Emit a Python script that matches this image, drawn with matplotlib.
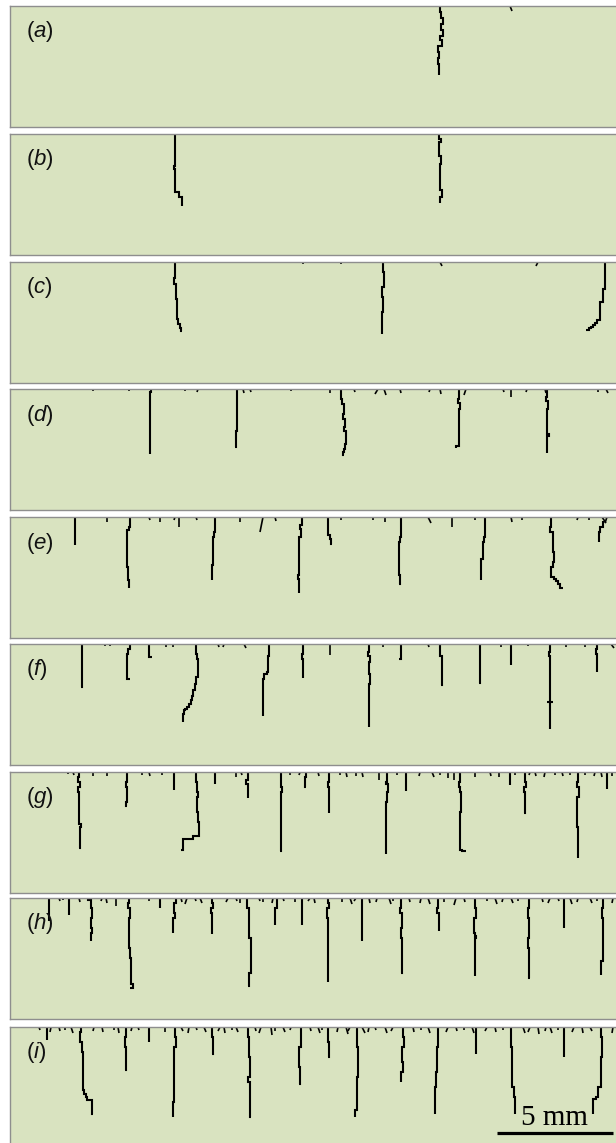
import matplotlib
matplotlib.use("Agg")
import matplotlib.pyplot as plt

plt.rcParams['mathtext.fontset'] = 'custom'
plt.rcParams['mathtext.rm'] = 'Liberation Sans'
plt.rcParams['mathtext.it'] = 'Liberation Sans:italic'

# ---------------- data (specimen coordinates: x along surface, depth below surface; units = image px, 23.2 px = 1 mm)
panel_labels = ['a', 'b', 'c', 'd', 'e', 'f', 'g', 'h', 'i']
panel_tops = [6, 134, 262, 389, 517, 644, 772, 898, 1027]

cracks_a = [
    [(440, 0), (441, 6), (443, 12), (441, 18), (443, 24), (440, 30), (442, 34), (438, 40), (439, 46), (438, 52), (439, 58), (439, 69)],
]
ticks_a = [(510, 5, 2)]

cracks_b = [
    [(175, 0), (175, 30), (174, 32), (175, 35), (175, 58), (179, 58), (179, 63), (182, 63), (182, 72)],
    [(439, 0), (441, 5), (439, 8), (439, 20), (441, 22), (440, 30), (440, 55), (442, 56), (442, 62), (440, 63), (440, 69)],
]
ticks_b = []

cracks_c = [
    [(175, 0), (175, 12), (174, 16), (176, 22), (177, 37), (178, 57), (180, 62), (181, 66), (182, 69)],
    [(383, 0), (384, 10), (382, 25), (383, 35), (382, 50), (382, 72)],
    [(605, 0), (605, 13), (603, 27), (600, 40), (600, 53), (597, 58), (595, 61), (593, 63), (591, 65), (589, 66), (586, 68)],
]
ticks_c = [(303, 2, 0), (341, 2, 0), (440, 4, 2), (538, 4, -2)]

cracks_d = [
    [(151, 0), (150, 3), (150, 65)],
    [(237, 0), (237, 40), (236, 42), (236, 55), (235, 58)],
    [(341, 0), (342, 10), (344, 15), (343, 25), (345, 30), (344, 38), (346, 42), (345, 55), (344, 60), (343, 63), (344, 66)],
    [(459, 0), (458, 10), (460, 14), (459, 20), (459, 57), (456, 57), (456, 59)],
    [(547, 0), (546, 8), (548, 12), (547, 20), (547, 40), (549, 45), (547, 47), (547, 64)],
]
ticks_d = [(93, 2, 0), (129, 2, 0), (185, 2, 0), (198, 3, -1), (243, 4, 1), (250, 3, 1), (291, 2, 0), (330, 4, 0),
           (354, 3, 1), (378, 5, -3), (384, 6, 2), (400, 4, 1), (430, 3, -1), (440, 5, 1), (466, 6, -2),
           (503, 3, 1), (511, 8, 0), (527, 3, -1), (545, 4, 1), (598, 3, 0), (606, 4, 2)]

cracks_e = [
    [(75, 0), (75, 28)],
    [(130, 0), (129, 10), (127, 13), (127, 47), (128, 50), (128, 60), (129, 63), (129, 71)],
    [(215, 0), (214, 15), (213, 20), (213, 45), (212, 48), (212, 63)],
    [(302, 0), (300, 8), (301, 12), (299, 20), (299, 55), (298, 58), (299, 62), (299, 76)],
    [(328, 0), (328, 15), (330, 18), (331, 22), (332, 27)],
    [(401, 0), (400, 20), (399, 25), (399, 55), (400, 58), (399, 67)],
    [(485, 0), (484, 20), (483, 25), (483, 40), (481, 42), (481, 63)],
    [(551, 0), (550, 10), (553, 15), (554, 35), (553, 45), (551, 50), (551, 58), (554, 60), (556, 62), (558, 64), (560, 67), (563, 71)],
    [(603, 4), (600, 10), (599, 15), (599, 25)],
]
ticks_e = [(107, 5, 0), (149, 3, 1), (160, 5, 0), (179, 10, 0), (175, 3, -1), (196, 3, 1), (240, 5, 0), (263, 15, -3),
           (275, 4, 1), (341, 3, 0), (373, 3, 0), (385, 5, 0), (428, 6, 3), (452, 10, 0), (475, 3, 0),
           (511, 5, 1), (522, 3, 0), (578, 3, -1), (589, 3, 0), (602, 6, 4), (607, 6, -2)]

cracks_f = [
    [(82, 0), (82, 42), (81, 43)],
    [(130, 0), (128, 5), (127, 10), (127, 33), (130, 35)],
    [(149, 0), (149, 12), (152, 13)],
    [(196, 0), (197, 10), (198, 15), (196, 33), (195, 40), (193, 46), (192, 52), (191, 56), (189, 60), (187, 63), (185, 65), (184, 66), (183, 70), (183, 78)],
    [(269, 0), (268, 12), (267, 28), (264, 30), (263, 35), (263, 72)],
    [(303, 0), (302, 10), (303, 15), (303, 34)],
    [(369, 0), (368, 8), (370, 12), (369, 18), (370, 30), (369, 40), (369, 83)],
    [(401, 0), (401, 14), (399, 15)],
    [(440, 0), (440, 10), (442, 12), (441, 41)],
    [(480, 0), (480, 38), (479, 39)],
    [(511, 0), (511, 21)],
    [(550, 0), (549, 8), (550, 12), (550, 85)],
    [(547, 58), (553, 58)],
    [(597, 0), (596, 5), (597, 10), (597, 28)],
]
ticks_f = [(105, 2, 0), (110, 2, 0), (166, 3, 0), (173, 3, 0), (218, 3, 1), (224, 3, -1), (244, 4, 2), (330, 11, 0),
           (383, 3, 0), (428, 3, 1), (501, 3, 0), (528, 2, 0), (566, 3, 0), (585, 3, 0), (611, 4, 3)]

cracks_g = [
    [(79, 0), (78, 5), (80, 10), (78, 15), (79, 20), (79, 50), (81, 52), (80, 55), (80, 76), (79, 76)],
    [(127, 0), (126, 10), (127, 15), (126, 30), (127, 34)],
    [(174, 0), (174, 18)],
    [(196, 0), (197, 10), (198, 20), (197, 25), (198, 40), (199, 50), (199, 64), (193, 64), (193, 67), (183, 67), (183, 76), (181, 78)],
    [(215, 0), (215, 12)],
    [(248, 0), (246, 8), (248, 12), (248, 26)],
    [(281, 0), (281, 10), (282, 15), (281, 20), (281, 78), (280, 79)],
    [(306, 0), (305, 5), (306, 15)],
    [(329, 0), (328, 10), (329, 15), (329, 41)],
    [(387, 0), (386, 10), (388, 12), (387, 20), (386, 30), (386, 82)],
    [(406, 0), (406, 19)],
    [(460, 0), (459, 10), (460, 15), (461, 20), (460, 40), (460, 76), (462, 78), (466, 79)],
    [(510, 0), (510, 13)],
    [(525, 0), (526, 10), (524, 15), (525, 20), (524, 41)],
    [(578, 0), (577, 10), (579, 15), (577, 25), (577, 50), (578, 55), (578, 86)],
    [(607, 0), (607, 17)],
]
ticks_g = [(68, 2, 0), (73, 3, 1), (93, 4, 0), (107, 4, 0), (142, 3, 0), (149, 4, 1), (162, 3, 0), (236, 5, 0),
           (241, 3, 1), (290, 3, 0), (300, 3, -1), (318, 4, 1), (340, 3, 0), (346, 5, 1), (356, 4, 0),
           (362, 5, 1), (379, 8, 0), (397, 3, 0), (420, 4, -1), (432, 5, 2), (440, 3, 0), (448, 6, 0),
           (454, 8, 0), (475, 5, 0), (490, 4, 1), (499, 5, 0), (515, 3, 0), (530, 3, -1), (535, 4, 1),
           (545, 5, -1), (555, 3, 0), (562, 4, 1), (570, 3, 0), (585, 3, 0), (595, 4, -1), (601, 5, 1), (612, 4, 0)]

cracks_h = [
    [(49, 0), (49, 23)],
    [(69, 0), (69, 17)],
    [(88, 0), (91, 2), (92, 10), (91, 20), (92, 30), (91, 35), (91, 43)],
    [(129, 0), (128, 5), (130, 10), (129, 20), (130, 50), (131, 60), (131, 84), (133, 86), (133, 90), (130, 90)],
    [(160, 0), (160, 10)],
    [(176, 0), (174, 5), (175, 15), (173, 20), (173, 35)],
    [(212, 0), (213, 5), (211, 10), (212, 15), (212, 36)],
    [(247, 0), (249, 10), (249, 30), (251, 40), (251, 70), (249, 75), (249, 83), (248, 88)],
    [(277, 0), (275, 10), (275, 27)],
    [(302, 0), (302, 27)],
    [(328, 0), (329, 5), (327, 10), (328, 20), (328, 84)],
    [(362, 0), (362, 43)],
    [(401, 0), (400, 10), (402, 15), (401, 30), (402, 40), (402, 70), (401, 75)],
    [(438, 0), (437, 10), (439, 15), (439, 33)],
    [(475, 0), (476, 10), (474, 20), (475, 35), (476, 38), (475, 40), (475, 78)],
    [(529, 0), (528, 10), (529, 20), (528, 40), (529, 50), (529, 75), (530, 80)],
    [(564, 0), (564, 30)],
    [(603, 0), (602, 10), (603, 20), (603, 60), (601, 63), (601, 77)],
]
ticks_h = [(59, 3, 1), (63, 2, 0), (79, 4, 1), (102, 3, -1), (106, 5, 1), (116, 8, 0), (149, 3, 0), (181, 4, 1),
           (187, 6, -2), (195, 3, 1), (200, 5, 2), (228, 4, -2), (236, 3, 1), (240, 5, 0), (259, 3, 1),
           (263, 4, 0), (273, 5, -1), (283, 3, 1), (295, 4, 0), (310, 3, -2), (314, 5, 1), (342, 4, 0),
           (350, 6, 2), (356, 3, -2), (369, 5, 1), (377, 4, -1), (389, 6, 2), (393, 3, 0), (409, 4, 1),
           (421, 5, -1), (428, 6, 2), (444, 4, 0), (456, 7, -2), (464, 4, 1), (487, 3, 0), (495, 6, 2),
           (503, 4, -1), (511, 5, 2), (518, 3, 0), (542, 4, 1), (550, 5, -2), (558, 3, 1), (570, 6, 2),
           (578, 4, -1), (590, 5, 2), (597, 3, 0), (613, 5, -1)]

cracks_i = [
    [(47, 0), (47, 13)],
    [(81, 0), (80, 5), (82, 15), (83, 25), (83, 60), (84, 63), (86, 67), (87, 70), (92, 73), (93, 87)],
    [(126, 0), (125, 10), (126, 20), (125, 43)],
    [(149, 0), (149, 15)],
    [(175, 0), (176, 10), (174, 20), (174, 60), (173, 75), (173, 90)],
    [(212, 0), (213, 10), (212, 27)],
    [(248, 0), (249, 10), (250, 30), (250, 45), (248, 50), (250, 55), (250, 75), (251, 90)],
    [(301, 0), (301, 10), (299, 20), (300, 40), (299, 57)],
    [(328, 0), (329, 15), (328, 30)],
    [(357, 0), (358, 20), (357, 50), (357, 80), (355, 83), (355, 90)],
    [(403, 0), (404, 10), (402, 20), (403, 35), (401, 45), (401, 55)],
    [(438, 0), (437, 20), (436, 45), (435, 60), (435, 87)],
    [(476, 0), (476, 27)],
    [(511, 0), (512, 20), (512, 50), (514, 60), (515, 70), (515, 87)],
    [(564, 0), (564, 30)],
    [(601, 0), (602, 10), (601, 30), (601, 55), (598, 60), (596, 70), (593, 72), (593, 87)],
]
ticks_i = [(39, 3, 1), (51, 5, -1), (59, 4, 1), (65, 3, 0), (71, 6, 2), (94, 4, -1), (102, 5, 1), (114, 3, 0),
           (118, 6, 1), (132, 4, -1), (138, 3, 1), (165, 5, 0), (181, 4, 2), (189, 6, -1), (196, 3, 1),
           (204, 5, 2), (220, 4, -2), (224, 6, 1), (232, 3, 0), (236, 5, 2), (255, 4, 1), (261, 6, -2),
           (271, 8, 1), (275, 4, 0), (283, 5, 2), (291, 3, -1), (310, 4, 1), (318, 6, 2), (322, 3, 0),
           (338, 5, -1), (346, 7, 2), (350, 4, -2), (362, 6, 3), (369, 5, -1), (375, 3, 1), (385, 6, 2),
           (393, 4, -2), (413, 5, 1), (421, 3, 0), (428, 6, 2), (448, 5, -2), (456, 4, 1), (464, 3, 0),
           (472, 6, 2), (487, 4, -2), (495, 5, 1), (503, 3, 0), (523, 6, 2), (530, 5, -2), (538, 7, 1),
           (546, 4, -1), (550, 6, 2), (558, 3, 0), (574, 5, -2), (582, 6, 1), (590, 4, 2), (613, 6, -1)]

all_cracks = [cracks_a, cracks_b, cracks_c, cracks_d, cracks_e, cracks_f, cracks_g, cracks_h, cracks_i]
all_ticks = [ticks_a, ticks_b, ticks_c, ticks_d, ticks_e, ticks_f, ticks_g, ticks_h, ticks_i]

scale_bar_x = [497, 613]
scale_bar_depth = 106
scale_bar_text = '5 mm'

# ---------------- figure
W, H = 616, 1143
fig = plt.figure(figsize=(W / 100, H / 100), dpi=100)
fig.patch.set_facecolor('white')

BG = '#d9e3c0'
EDGE = '#8e8e8e'
PANEL_H = 121
LEFT = 10

for k, top in enumerate(panel_tops):
    ax = fig.add_axes([LEFT / W, 1 - (top + PANEL_H) / H, (W - LEFT) / W, PANEL_H / H])
    ax.set_facecolor(BG)
    ax.set_xlim(LEFT, W)
    ax.set_ylim(PANEL_H, 0)
    ax.set_xticks([])
    ax.set_yticks([])
    for side in ['left', 'top', 'bottom']:
        ax.spines[side].set_color(EDGE)
        ax.spines[side].set_linewidth(1.0)
    ax.spines['right'].set_visible(False)

    for crack in all_cracks[k]:
        # pixel-like staircase rendering: go down first, then across
        xs, ys = [crack[0][0]], [crack[0][1]]
        for (x1, y1) in crack[1:]:
            xs.append(xs[-1]); ys.append(y1)
            xs.append(x1); ys.append(y1)
        ax.plot(xs, ys, color='black', lw=1.5, solid_joinstyle='miter', solid_capstyle='butt')
    for (x, L, dx) in all_ticks[k]:
        ax.plot([x, x + dx], [0, L], color='black', lw=1.2, solid_capstyle='butt')

    ax.text(16 / (W - LEFT), 1 - 26 / PANEL_H, '($\\mathit{%s}$)' % panel_labels[k],
            transform=ax.transAxes, fontsize=16, family='Liberation Sans',
            ha='left', va='center', color='#111111')

    if panel_labels[k] == 'i':
        ax.plot(scale_bar_x, [scale_bar_depth, scale_bar_depth], color='black', lw=2.3,
                solid_capstyle='butt', clip_on=False)
        ax.text(sum(scale_bar_x) / 2 - 1, scale_bar_depth - 8, scale_bar_text,
                fontsize=21, family='Liberation Serif', ha='center', va='baseline', color='black')

fig.savefig('out.png', dpi=100, facecolor='white')
